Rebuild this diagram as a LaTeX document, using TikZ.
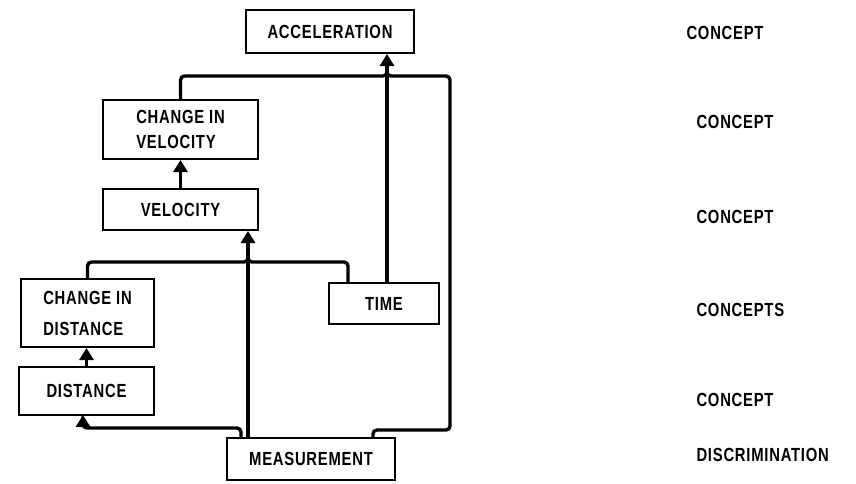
\documentclass[tikz,border=0pt]{standalone}
\usepackage{fontspec}
\setmainfont{Liberation Sans}[FakeStretch=0.78,LetterSpace=4]
\usetikzlibrary{arrows.meta}

\tikzset{
  box/.style={draw, line width=2pt, anchor=center, inner sep=0pt, align=left,
    font=\fontsize{19}{25}\selectfont\bfseries},
  wire/.style={line width=3.4pt, rounded corners=4pt},
  arr/.style={wire, -{Triangle[width=14pt,length=12pt]}},
  tag/.style={anchor=west, font=\fontsize{19}{22}\selectfont\bfseries}
}

\begin{document}
\begin{tikzpicture}[x=1pt,y=-1pt]
\useasboundingbox (0,0) rectangle (856,483);

% boxes
\node[box, minimum width=168pt, minimum height=43pt] (acc) at (330,31.5) {ACCELERATION};
\node[box, minimum width=155pt, minimum height=59pt] (cv) at (180.5,129.5) {CHANGE IN\\VELOCITY};
\node[box, minimum width=155pt, minimum height=41pt] (vel) at (180.5,209.5) {VELOCITY};
\node[box, minimum width=133pt, minimum height=68pt] (cd) at (87.5,313) {CHANGE IN\\[6pt]DISTANCE};
\node[box, minimum width=135pt, minimum height=48pt] (dist) at (86.5,391) {DISTANCE};
\node[box, minimum width=110pt, minimum height=41pt] (time) at (384,303.5) {TIME};
\node[box, minimum width=168pt, minimum height=42pt] (meas) at (311,459) {MEASUREMENT};

% levels
\node[tag] (l1) at (683,33) {CONCEPT};
\node[tag] (l2) at (693,122) {CONCEPT};
\node[tag] (l3) at (693,217) {CONCEPT};
\node[tag] (l4) at (693,310) {CONCEPTS};
\node[tag] (l5) at (693,400) {CONCEPT};
\node[tag] (l6) at (693,455) {DISCRIMINATION};

% junctions
\coordinate (ja) at (387,76);
\coordinate (jv) at (248,262);
\coordinate (jt) at (348,262);
\coordinate (jm) at (373,430);
\coordinate (jr) at (450,430);
\coordinate (jd) at (241,428);

% connectors
\draw[arr] (dist.north) -- (dist.north |- cd.south);
\draw[arr] (vel.north) -- (vel.north |- cv.south);
\draw[arr] (meas.north -| jv) -- (vel.south -| jv);
\draw[arr] (time.north -| ja) -- (acc.south -| ja);
\draw[wire] (cd.north) |- (jv) -- ++(0,-10);
\draw[wire] (time.north -| jt) |- (jv) -- ++(0,-10);
\draw[wire] (cv.north) |- (ja) -- ++(0,-10);
\draw[wire] (meas.north -| jm) |- (jr) |- (ja) -- ++(0,-10);
\draw[arr] (meas.north -| jd) |- (83,428) -- (83,415);
\end{tikzpicture}
\end{document}
